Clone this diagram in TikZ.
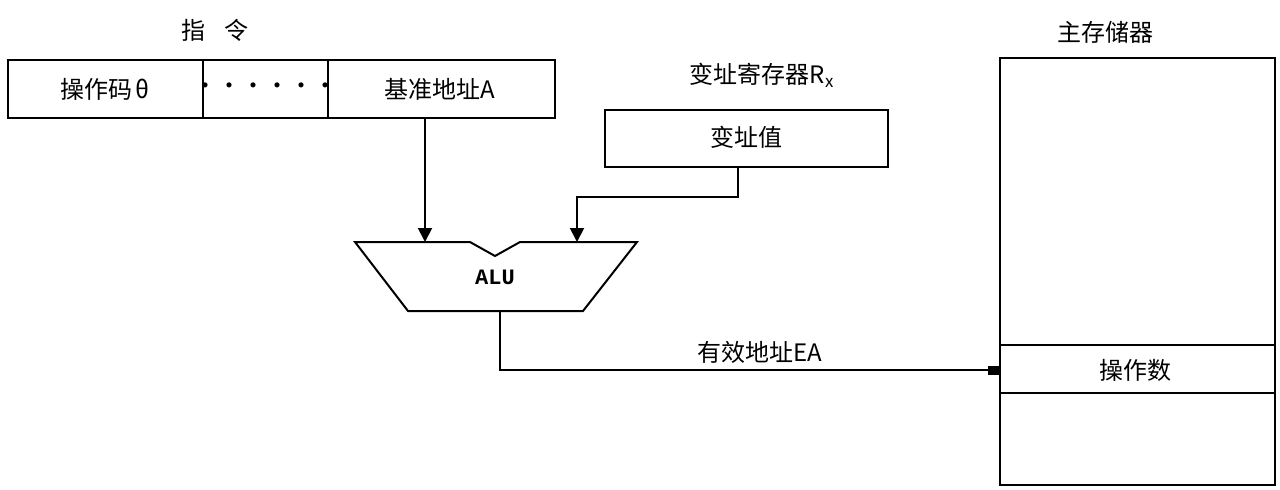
\documentclass[tikz,border=0pt]{standalone}
\usepackage{fontspec}
\setmainfont{Liberation Mono}
\newfontfamily\cjk{Noto Sans CJK SC}
\usetikzlibrary{arrows.meta}
\begin{document}
\begin{tikzpicture}[x=1pt,y=-1pt,line width=2pt,
  lbl/.style={font=\cjk\fontsize{24}{26}\selectfont,inner sep=0},
  tip/.style={-{Triangle[length=14pt,width=14pt]}},
  sq/.style={-{Square[length=12pt,width=9pt]}}]
\useasboundingbox (0,0) rectangle (1280,490);
\draw (8,60) rectangle (555,118);
\draw (203,60) -- (203,118) (328,60) -- (328,118);
\node[lbl] (ins) at (215,30) {指\hspace{0.8em}令};
\node[lbl] (op) at (105,89) {操作码\,θ};
\node[lbl] (dots) at (265,89) {······};
\node[lbl] (base) at (440,89) {基准地址A};
\coordinate (bs) at (425,118);
\node[lbl] (rxl) at (762,75) {变址寄存器R\textsubscript{x}};
\draw (605,110) rectangle (888,167);
\node[lbl] (rx) at (746,137) {变址值};
\coordinate (rxs) at (738,167);
\node[lbl] (meml) at (1105,32) {主存储器};
\draw (1000,58) rectangle (1275,485);
\draw (1000,345) -- (1275,345) (1000,393) -- (1275,393);
\node[lbl] (opd) at (1135,370) {操作数};
\coordinate (memin) at (1000,370);
\draw (355,242) -- (470,242) -- (495,256) -- (520,242) -- (637,242) -- (583,311) -- (408,311) -- cycle;
\node[font=\fontsize{22}{24}\selectfont\bfseries] (alu) at (495,277) {ALU};
\coordinate (a1) at (425,242);
\coordinate (a2) at (577,242);
\coordinate (aout) at (500,311);
\draw[tip] (bs) -- (a1);
\draw[tip] (rxs) |- (577,197) -- (a2);
\draw[sq] (aout) |- (memin);
\node[lbl] (ea) at (760,352) {有效地址EA};
\end{tikzpicture}
\end{document}
